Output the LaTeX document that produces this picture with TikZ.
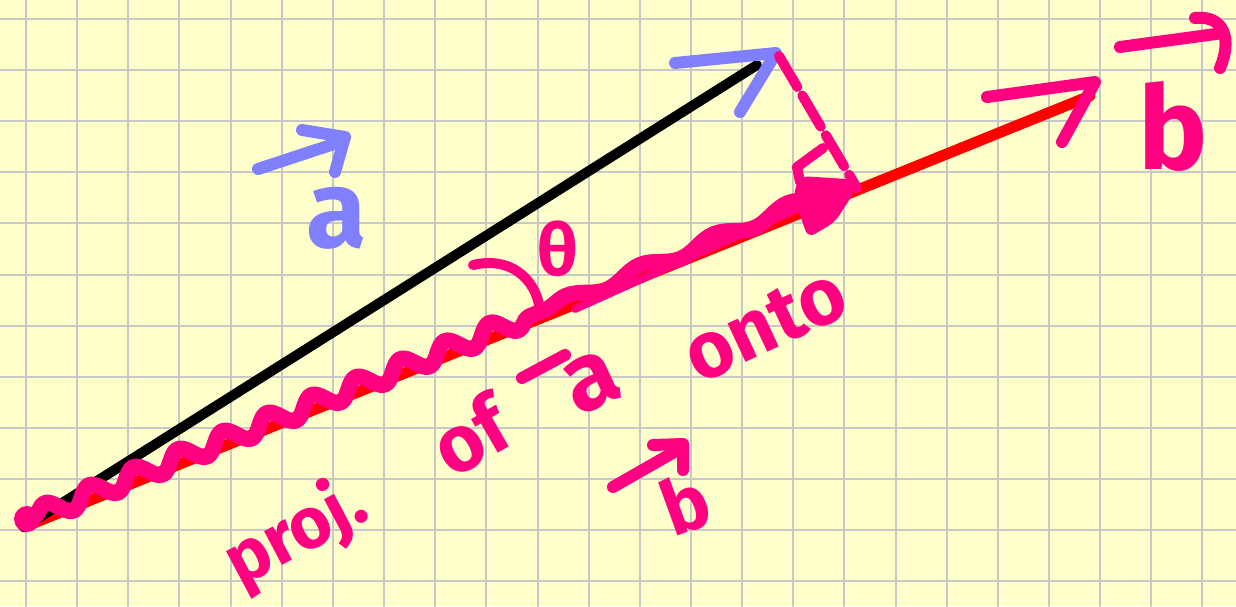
\documentclass[tikz,border=0pt]{standalone}
\usepackage{fontspec}
\setmainfont{Fira Sans}
\usetikzlibrary{decorations.pathmorphing,calc}
\definecolor{paper}{RGB}{255,255,204}
\definecolor{gridc}{RGB}{200,200,200}
\definecolor{hotpink}{RGB}{255,0,128}
\definecolor{penblue}{RGB}{128,128,255}
\begin{document}
\begin{tikzpicture}[x=0.5pt,y=-0.5pt,line cap=round,line join=round,
  gridline/.style={gridc,line width=1pt},
  pinkpen/.style={hotpink,line width=6pt},
  bluepen/.style={penblue,line width=6pt},
  pinktxt/.style={text=hotpink,inner sep=0pt,font=\bfseries\fontsize{36}{36}\selectfont},
  bluetxt/.style={text=penblue,inner sep=0pt,font=\bfseries\fontsize{55}{55}\selectfont}]
\fill[paper] (0,0) rectangle (1236,606);
\useasboundingbox (0,0) rectangle (1236,606);
\foreach \i in {0,...,23} \draw[gridline] ({26+51.15*\i},0) -- ({26+51.15*\i},606);
\foreach \j in {0,...,11} \draw[gridline] (0,{19+51.1*\j}) -- (1236,{19+51.1*\j});

% key points
\coordinate (O) at (24,527);
\coordinate (A) at (757,65);
\coordinate (Atip) at (776,53);
\coordinate (B) at (1090,96);
\coordinate (P) at (857,188);
\coordinate (M) at (545,314);

% vector b (red) and vector a (black)
\draw[red,line width=5.5pt] (O) -- (B);
\draw[black,line width=5pt] (O) -- (A);
% arrowhead of a
\draw[bluepen] (675,63) -- (Atip) -- (740,112);
% arrowhead of b
\draw[pinkpen] (987,97) -- (1095,82) -- (1062,142);

% projection scribble
\fill[hotpink] (O) ++(3,-8) circle (13);
\draw[pinkpen,line width=8pt,decorate,decoration={snake,amplitude=4.5pt,segment length=24pt}]
  ($(O)+(10,-10)$) -- ($(M)+(0,-4)$);
\draw[pinkpen,line width=8pt,decorate,decoration={snake,amplitude=2.5pt,segment length=40pt}]
  ($(M)+(0,-4)$) -- ($(P)+(-20,0)$);
\draw[pinkpen,line width=4pt] ($(M)+(30,-5)$) -- ($(P)+(-40,12)$);
\fill[hotpink,rounded corners=4pt] (862,180) -- (800,176) -- (793,195) -- (808,238) -- (835,222) -- cycle;
% perpendicular (dashed)
\draw[pinkpen,line width=5pt,dash pattern={on 18pt off 5pt}] (Atip) ++(3,3) -- (P);
% right angle mark
\draw[pinkpen,line width=5pt] (823,148) -- (797,167) -- (800,182);

% angle theta
\draw[pinkpen,line width=5pt] (473,265) .. controls (515,255) and (540,285) .. (540,315);
\node[pinktxt,font=\bfseries\fontsize{36}{36}\selectfont] (theta) at (558,249) {θ};

% label a (blue)
\draw[bluepen] (258,169) -- (340,142);
\draw[bluepen] (302,130) -- (345,137) -- (335,172);
\node[bluetxt] (alab) at (337,218) {a};

% label b (pink, top right)
\draw[pinkpen] (1120,47) -- (1223,33);
\draw[pinkpen] (1195,18) .. controls (1225,15) and (1232,40) .. (1220,68);
\node[pinktxt,font=\bfseries\fontsize{58}{58}\selectfont] (blab) at (1173,126) {b};

% caption: proj. of a onto b
\node[pinktxt,rotate=28] (wproj) at (296,534) {proj.};
\node[pinktxt,rotate=30,font=\bfseries\fontsize{40}{40}\selectfont] (wof) at (470,435) {of};
\draw[pinkpen] (522,378) -- (565,355);
\node[pinktxt,rotate=25,font=\bfseries\fontsize{48}{48}\selectfont] (wa) at (592,382) {a};
\node[pinktxt,rotate=25,font=\bfseries\fontsize{40}{40}\selectfont] (wonto) at (765,325) {onto};
\draw[pinkpen] (613,487) -- (683,447);
\draw[pinkpen] (653,445) -- (683,444) -- (683,470);
\node[pinktxt,rotate=20,font=\bfseries\fontsize{38}{38}\selectfont] (wb) at (685,503) {b};
\end{tikzpicture}
\end{document}
